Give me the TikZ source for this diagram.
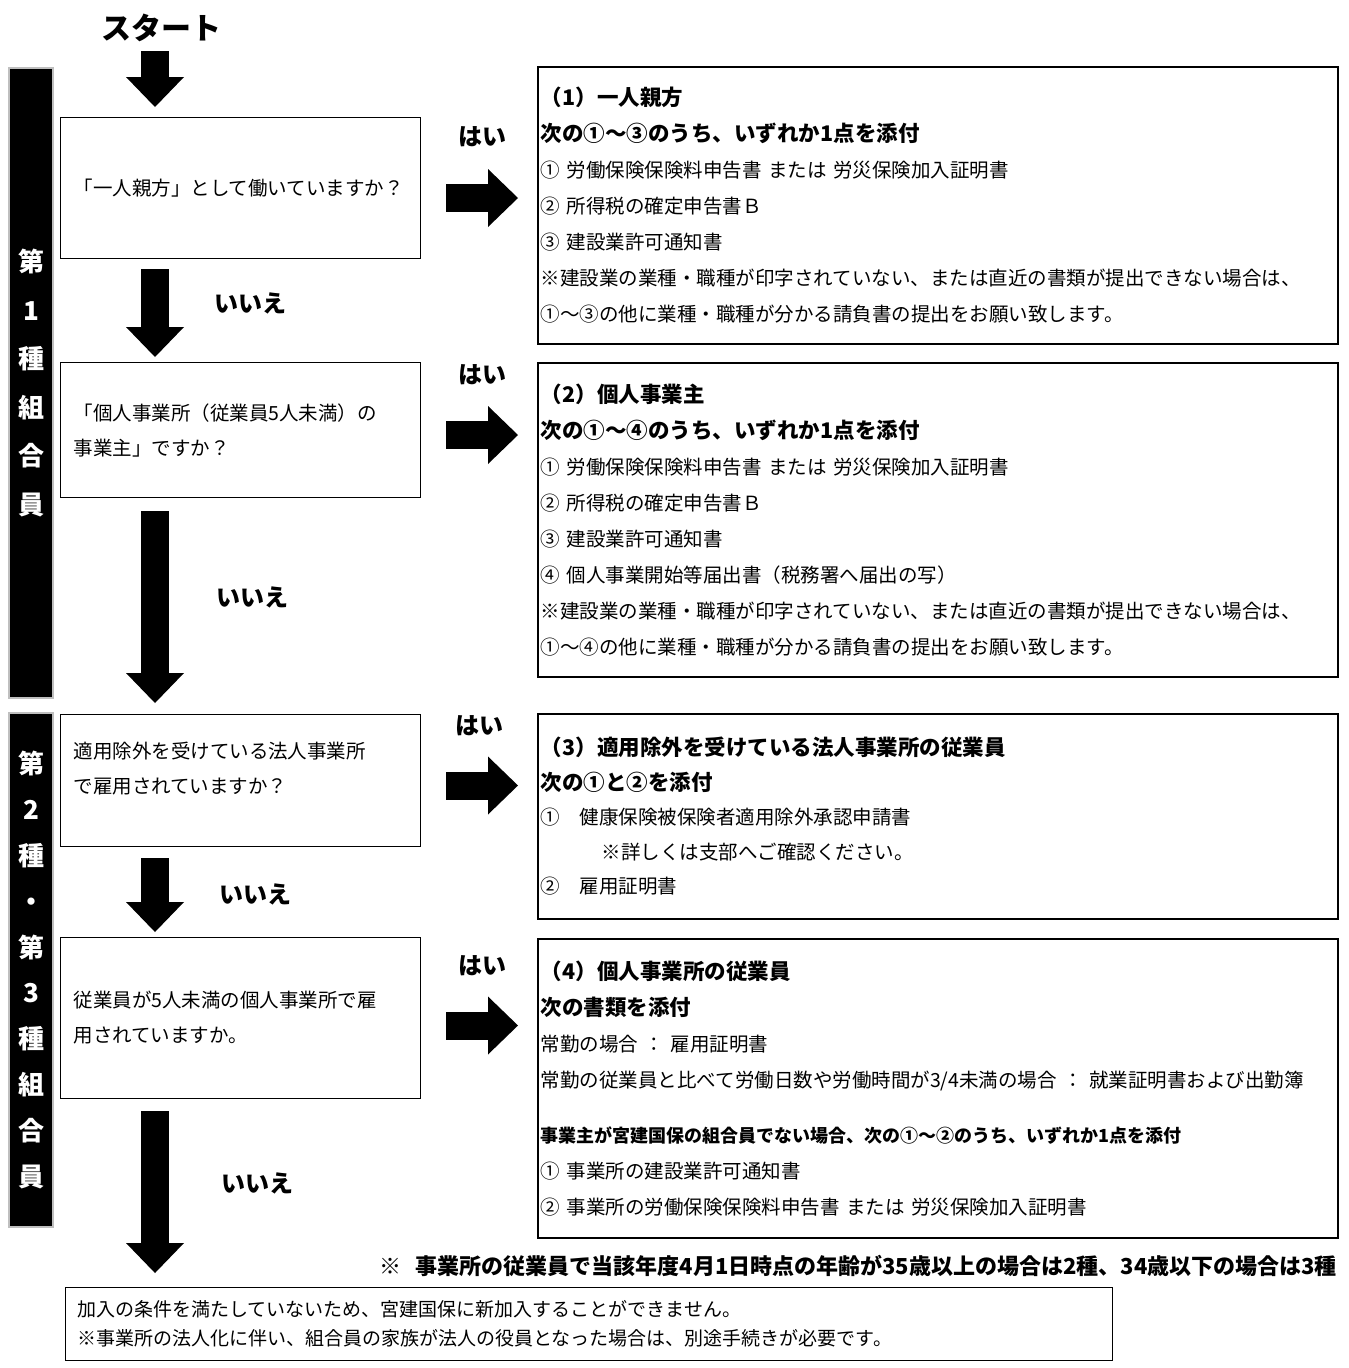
\documentclass[tikz,border=0pt]{standalone}
\usepackage{fontspec}
\setmainfont{Noto Sans CJK JP}
\usepackage{tikz}
\usetikzlibrary{arrows.meta}
\setlength{\parindent}{0pt}

\newcommand{\bodyfont}{\fontsize{19.5}{36}\selectfont}
\newcommand{\headfont}{\bfseries\fontsize{21.5}{36}\selectfont}

\begin{document}
\begin{tikzpicture}[x=1pt,y=-1pt]
\useasboundingbox (0,0) rectangle (1349,1368);

\begin{scope}[every node/.style={fill=black,draw=black!25,line width=2pt,text=white,inner sep=0pt,
              anchor=north west,minimum width=44pt,align=center,
              font=\bfseries\fontsize{26}{48.5}\selectfont}]
    \node (side1) at (8,67) [minimum height=630pt] {第\\1\\種\\組\\合\\員};
    \node (side2) at (8,712) [minimum height=514pt,font=\bfseries\fontsize{26}{45.8}\selectfont]
        {第\\2\\種\\・\\第\\3\\種\\組\\合\\員};
\end{scope}

\begin{scope}[every node/.style={draw,line width=1pt,anchor=north west,text width=334pt,
              inner xsep=13pt,align=left,font=\fontsize{19.5}{35}\selectfont}]
    \node (q1) at (60,117) [minimum height=141pt] {「一人親方」として働いていますか？};
    \node (q2) at (60,362) [minimum height=135pt] {「個人事業所（従業員5人未満）の\\事業主」ですか？};
    \node (q3) at (60,714) [minimum height=132pt] {適用除外を受けている法人事業所\\で雇用されていますか？\\[-9pt]\mbox{}};
    \node (q4) at (60,937) [minimum height=161pt] {従業員が5人未満の個人事業所で雇\\用されていますか。};
\end{scope}

\begin{scope}[every node/.style={draw,line width=1.8pt,anchor=north west,text width=794pt,
              inner xsep=3pt,align=left,font=\bodyfont}]
    \node (ans1) at (537,66) [minimum height=277pt]
        {{\headfont （1）一人親方}\\
         {\headfont 次の①～③のうち、いずれか1点を添付}\\
         ① 労働保険保険料申告書 または 労災保険加入証明書\\
         ② 所得税の確定申告書Ｂ\\
         ③ 建設業許可通知書\\
         ※建設業の業種・職種が印字されていない、または直近の書類が提出できない場合は、\\
         ①～③の他に業種・職種が分かる請負書の提出をお願い致します。};
    \node (ans2) at (537,362) [minimum height=314pt]
        {{\headfont （2）個人事業主}\\
         {\headfont 次の①～④のうち、いずれか1点を添付}\\
         ① 労働保険保険料申告書 または 労災保険加入証明書\\
         ② 所得税の確定申告書Ｂ\\
         ③ 建設業許可通知書\\
         ④ 個人事業開始等届出書（税務署へ届出の写）\\
         ※建設業の業種・職種が印字されていない、または直近の書類が提出できない場合は、\\
         ①～④の他に業種・職種が分かる請負書の提出をお願い致します。};
    \node (ans3) at (537,713) [minimum height=205pt,font=\fontsize{19.5}{34.5}\selectfont]
        {{\headfont （3）適用除外を受けている法人事業所の従業員}\\
         {\headfont 次の①と②を添付}\\
         ①　健康保険被保険者適用除外承認申請書\\
         \hspace*{61pt}※詳しくは支部へご確認ください。\\
         ②　雇用証明書};
    \node (ans4) at (537,938) [minimum height=299pt]
        {{\headfont （4）個人事業所の従業員}\\
         {\headfont 次の書類を添付}\\
         常勤の場合 ： 雇用証明書\\
         常勤の従業員と比べて労働日数や労働時間が3/4未満の場合 ： 就業証明書および出勤簿\\[19pt]
         {\bfseries\fontsize{18}{36}\selectfont 事業主が宮建国保の組合員でない場合、次の①～②のうち、いずれか1点を添付}\\
         ① 事業所の建設業許可通知書\\
         ② 事業所の労働保険保険料申告書 または 労災保険加入証明書};
\end{scope}

\node[draw,line width=1pt,anchor=north west,text width=1023pt,inner xsep=12pt,minimum height=73pt,
      align=left,font=\fontsize{19}{29}\selectfont] (last) at (65,1287)
    {加入の条件を満たしていないため、宮建国保に新加入することができません。\\
     ※事業所の法人化に伴い、組合員の家族が法人の役員となった場合は、別途手続きが必要です。};

\node[inner sep=0pt,font=\bfseries\fontsize{30}{30}\selectfont] (start) at (161,28) {スタート};
\node[anchor=east,inner sep=0pt,font=\bfseries\fontsize{22}{22}\selectfont] (note) at (1337,1266)
    {※\hspace{14pt}事業所の従業員で当該年度4月1日時点の年齢が35歳以上の場合は2種、34歳以下の場合は3種};

\begin{scope}[every node/.style={font=\bfseries\fontsize{24}{24}\selectfont}]
    \node (yes1) at (482,137) {はい};
    \node (yes2) at (482,375) {はい};
    \node (yes3) at (479,726) {はい};
    \node (yes4) at (482,966) {はい};
    \node (no1) at (250,303) {いいえ};
    \node (no2) at (252,597) {いいえ};
    \node (no3) at (255,894) {いいえ};
    \node (no4) at (257,1183) {いいえ};
\end{scope}

\begin{scope}[every edge/.style={draw=black,line width=28pt,
              -{Triangle[width=58pt,length=30pt,line width=0pt]}}]
    \path ([xshift=95pt]q1.north west |- start.south) edge[shorten <=9pt,shorten >=10pt] ([xshift=95pt]q1.north west);
    \path ([xshift=95pt]q1.south west) edge[shorten <=10pt,shorten >=5pt] ([xshift=95pt]q2.north west);
    \path ([xshift=95pt]q2.south west) edge[shorten <=13pt,shorten >=11pt] ([xshift=95pt]q3.north west);
    \path ([xshift=95pt]q3.south west) edge[shorten <=11pt,shorten >=5pt] ([xshift=95pt]q4.north west);
    \path ([xshift=95pt]q4.south west) edge[shorten <=12pt,shorten >=14pt] ([xshift=95pt]q4.south west |- last.north);
    \path ([yshift=-10pt]q1.east) edge[shorten <=25pt,shorten >=19pt] ([yshift=-10pt]q1.east -| ans1.west);
    \path ([yshift=-5pt]q2.east) edge[shorten <=25pt,shorten >=19pt] ([yshift=-5pt]q2.east -| ans2.west);
    \path ([yshift=-5pt]q3.east) edge[shorten <=25pt,shorten >=19pt] ([yshift=-5pt]q3.east -| ans3.west);
    \path ([yshift=-7.5pt]q4.east) edge[shorten <=25pt,shorten >=19pt] ([yshift=-7.5pt]q4.east -| ans4.west);
\end{scope}
\end{tikzpicture}
\end{document}
